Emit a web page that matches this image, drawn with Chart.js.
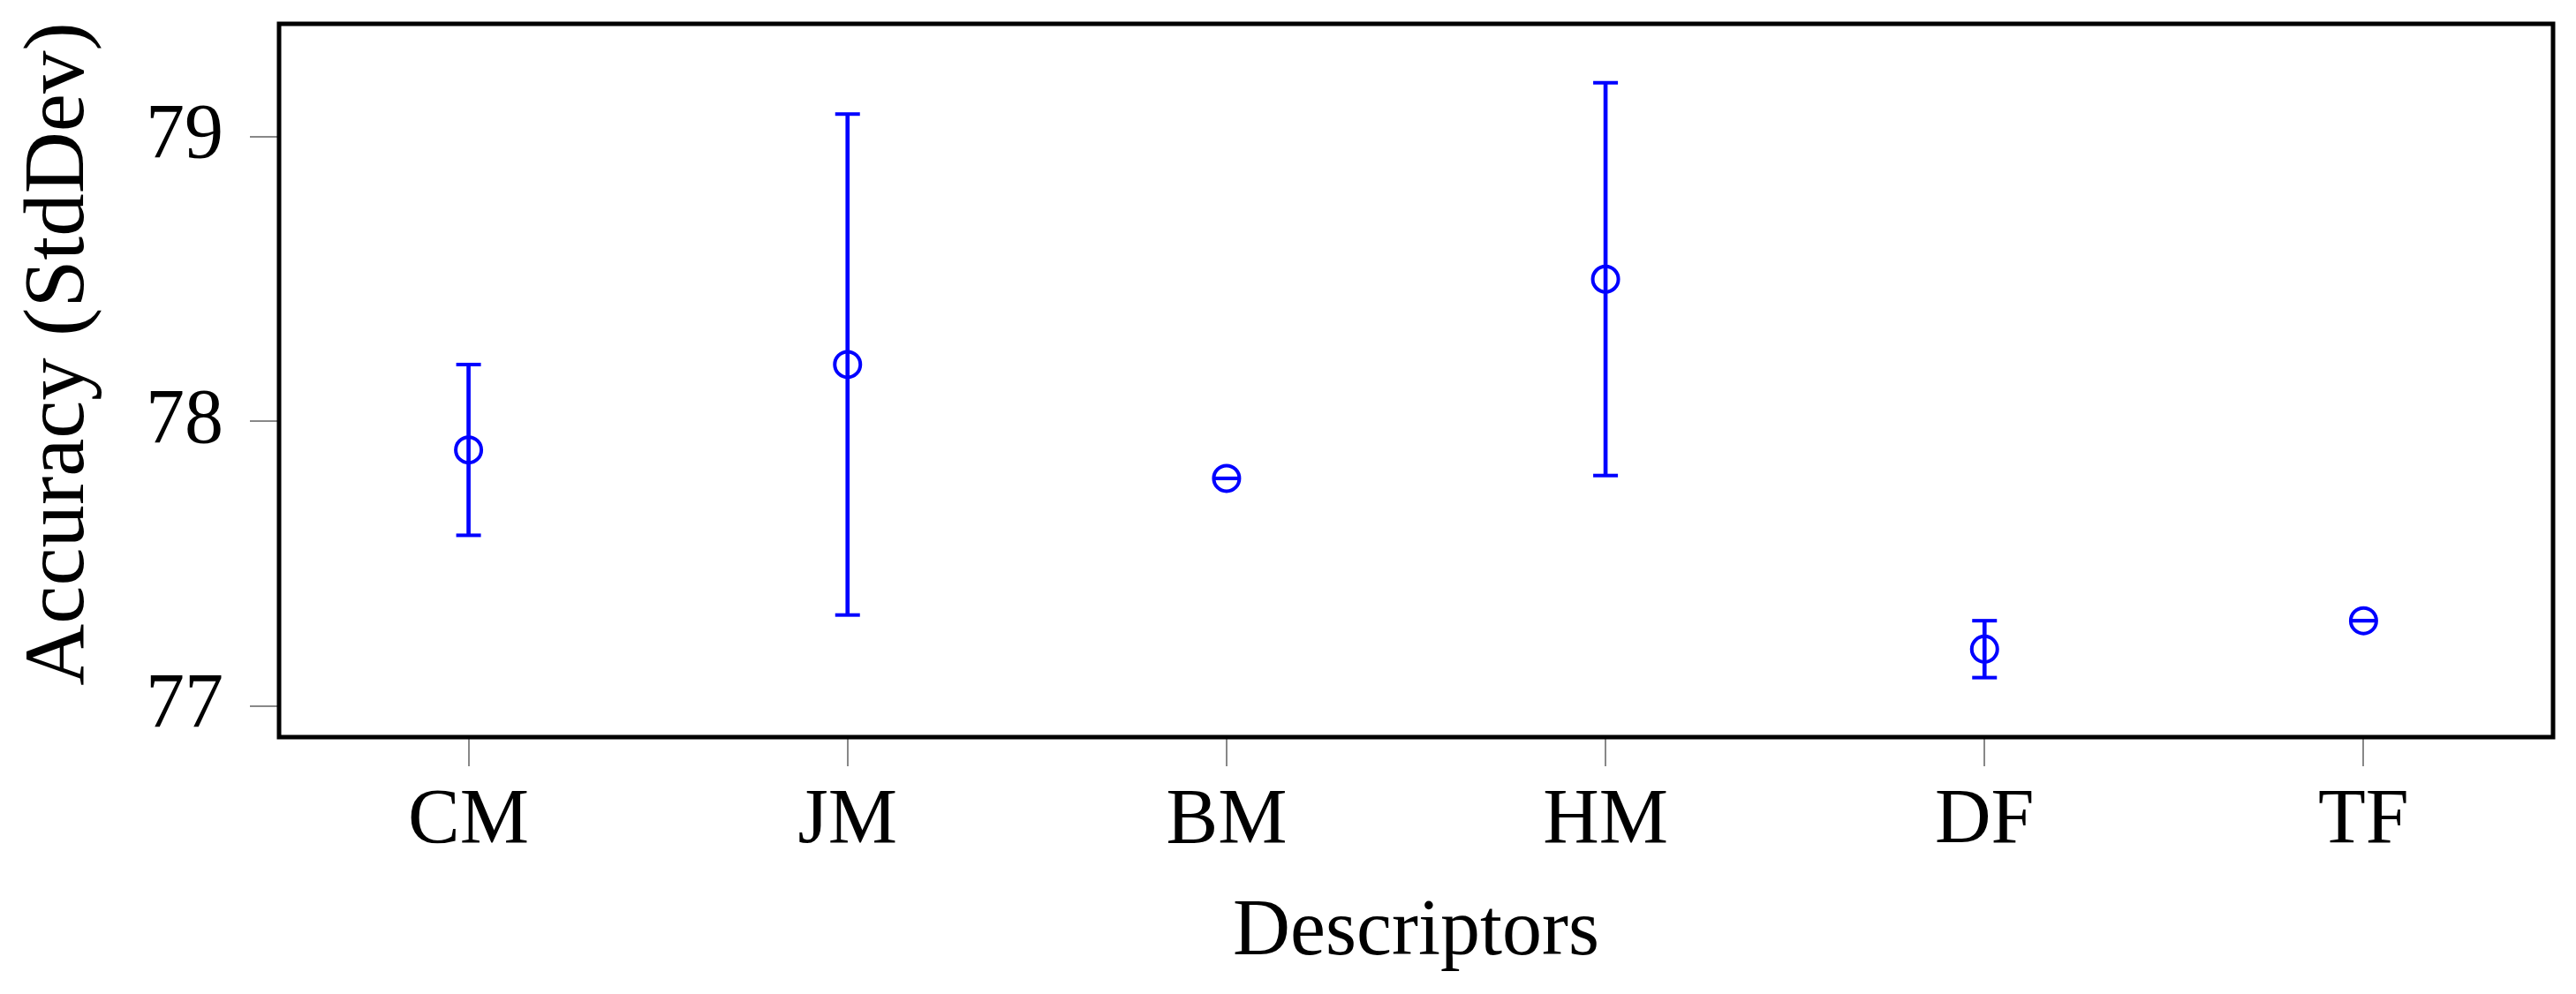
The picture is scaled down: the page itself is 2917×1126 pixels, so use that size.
<!DOCTYPE html>
<html lang="en">
<head>
    <meta charset="UTF-8">
    <title>Accuracy per descriptor</title>
    <style>
        body { margin: 0; background: #fff; }
        .chart-box { width: 2917px; height: 1126px; }
    </style>
</head>
<body>
    <div class="chart-box"><canvas id="accChart"></canvas></div>

    <script src="https://cdn.jsdelivr.net/npm/chart.js"></script>
    <script>
        // values
        const descriptors = ['CM', 'JM', 'BM', 'HM', 'DF', 'TF'];
        const accuracy = [77.9, 78.2, 77.8, 78.5, 77.2, 77.3];
        const stdDev = [0.3, 0.88, 0, 0.69, 0.1, 0];
        const yTicks = [77, 78, 79];

        const upper = accuracy.map((v, i) => v + stdDev[i]);
        const lower = accuracy.map((v, i) => v - stdDev[i]);
        const blue = '#0000ff';
        const serif = "'Liberation Serif', 'Times New Roman', serif";

        // black frame round the plot area + y axis title (sits a bit above centre, like the original)
        const frame = {
            id: 'frame',
            afterDraw(chart) {
                const a = chart.chartArea;
                const ctx = chart.ctx;
                ctx.save();
                ctx.strokeStyle = '#000';
                ctx.lineWidth = 5;
                ctx.strokeRect(a.left, a.top, a.right - a.left, a.bottom - a.top);

                ctx.translate(94, 401);
                ctx.rotate(-Math.PI / 2);
                ctx.fillStyle = '#000';
                ctx.font = '97px ' + serif;
                ctx.textAlign = 'center';
                ctx.textBaseline = 'alphabetic';
                ctx.fillText('Accuracy (StdDev)', 0, 0);
                ctx.restore();
            }
        };

        new Chart(document.getElementById('accChart'), {
            type: 'bar',
            data: {
                labels: descriptors,
                datasets: [
                    {
                        // vertical stem of each error bar
                        type: 'bar',
                        data: lower.map((lo, i) => [lo, upper[i]]),
                        backgroundColor: blue,
                        borderWidth: 0,
                        barThickness: 4
                    },
                    {
                        type: 'line',
                        data: upper,
                        showLine: false,
                        pointStyle: 'line',
                        pointRadius: 14,
                        borderColor: blue,
                        borderWidth: 4
                    },
                    {
                        type: 'line',
                        data: lower,
                        showLine: false,
                        pointStyle: 'line',
                        pointRadius: 14,
                        borderColor: blue,
                        borderWidth: 4
                    },
                    {
                        type: 'line',
                        data: accuracy,
                        showLine: false,
                        pointStyle: 'circle',
                        pointRadius: 14.5,
                        pointBorderWidth: 4,
                        pointBorderColor: blue,
                        pointBackgroundColor: 'rgba(0,0,0,0)'
                    }
                ]
            },
            options: {
                responsive: true,
                maintainAspectRatio: false,
                devicePixelRatio: 1,
                animation: false,
                layout: { padding: { top: 27, right: 26, left: 0, bottom: 0 } },
                plugins: {
                    legend: { display: false },
                    tooltip: { enabled: false }
                },
                scales: {
                    x: {
                        type: 'category',
                        offset: true,
                        afterFit: s => { s.height = 291; s.paddingLeft = 0; s.paddingRight = 0; },
                        grid: {
                            offset: false,
                            drawOnChartArea: false,
                            drawTicks: true,
                            tickLength: 33,
                            color: '#888',
                            lineWidth: 2
                        },
                        border: { display: false },
                        ticks: {
                            color: '#000',
                            padding: 10,
                            font: { family: serif, size: 88 }
                        },
                        title: {
                            display: true,
                            text: 'Descriptors',
                            color: '#000',
                            padding: { top: 0, bottom: 15 },
                            font: { family: serif, size: 90 }
                        }
                    },
                    y: {
                        min: 76.891,
                        max: 79.397,
                        afterFit: s => { s.width = 316; s.paddingTop = 0; s.paddingBottom = 0; },
                        afterBuildTicks: s => { s.ticks = yTicks.map(v => ({ value: v })); },
                        grid: {
                            drawOnChartArea: false,
                            drawTicks: true,
                            tickLength: 33,
                            color: '#888',
                            lineWidth: 2
                        },
                        border: { display: false },
                        ticks: {
                            color: '#000',
                            padding: 30,
                            font: { family: serif, size: 88 }
                        }
                    }
                }
            },
            plugins: [frame]
        });
    </script>
</body>
</html>
